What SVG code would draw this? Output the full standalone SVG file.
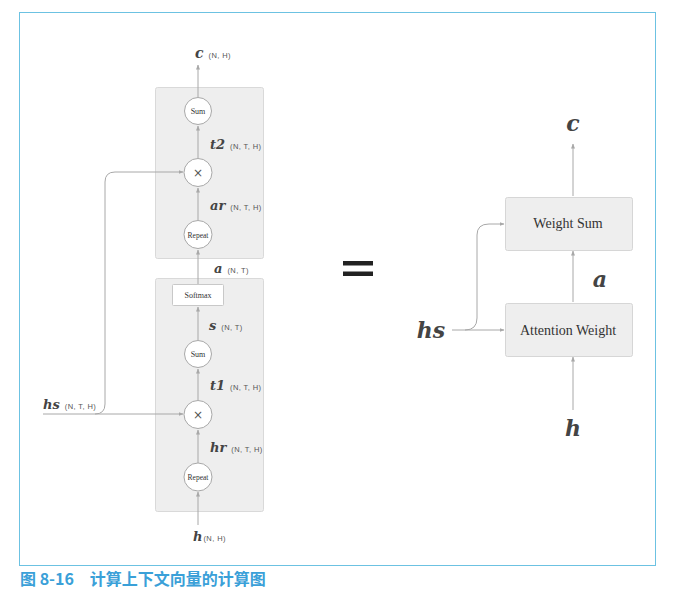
<svg xmlns="http://www.w3.org/2000/svg" width="694" height="593" viewBox="0 0 694 593">
<defs>
<marker id="ah" viewBox="0 0 10 10" refX="9" refY="5" markerWidth="5" markerHeight="5" orient="auto" markerUnits="userSpaceOnUse">
<path d="M0,1 L10,5 L0,9 Z" fill="#a8a8a8"/>
</marker>
<style>
.grp{fill:#eeeeee;stroke:#d9d9d9;stroke-width:1}
.node{fill:#ffffff;stroke:#a8a8a8;stroke-width:1}
.blk{fill:#eeeeee;stroke:#d6d6d6;stroke-width:1}
.arr{fill:none;stroke:#a8a8a8;stroke-width:1;marker-end:url(#ah)}
.var{font-family:"DejaVu Serif","Liberation Serif",serif;font-weight:bold;font-style:italic;fill:#444444}
.dim{font-family:"Liberation Sans",Arial,sans-serif;font-size:7.5px;letter-spacing:0.4px;fill:#555555}
.nt{font-family:"Liberation Serif","Times New Roman",serif;font-size:8px;fill:#333333;text-anchor:middle}
.bt{font-family:"Liberation Serif","Times New Roman",serif;font-size:14px;fill:#333333;text-anchor:middle}
.cap{font-family:"Noto Sans CJK SC","Noto Sans",sans-serif;font-weight:bold;font-size:16px;fill:#3aa0d8}
</style>
</defs>
<rect x="19.5" y="12.5" width="636" height="553" fill="#ffffff" stroke="#6cc2e2" stroke-width="1"/>

<g id="group-upper"><rect class="grp" x="155.5" y="87.5" width="108" height="171" rx="2"/></g>
<g id="group-lower"><rect class="grp" x="155.5" y="278.5" width="108" height="233" rx="2"/></g>

<g id="connectors">
<line class="arr" x1="198" y1="97" x2="198" y2="65"/>
<line class="arr" x1="198" y1="158" x2="198" y2="126"/>
<line class="arr" x1="198" y1="220" x2="198" y2="188"/>
<line class="arr" x1="198" y1="284" x2="198" y2="250"/>
<line class="arr" x1="198" y1="340" x2="198" y2="307"/>
<line class="arr" x1="198" y1="400" x2="198" y2="369"/>
<line class="arr" x1="198" y1="463" x2="198" y2="430"/>
<line class="arr" x1="198" y1="525" x2="198" y2="492"/>
<line class="arr" x1="43" y1="414" x2="183" y2="414"/>
<path class="arr" d="M95,414 Q105,414 105,404 L105,182 Q105,172 115,172 L183,172"/>
<line class="arr" x1="573" y1="196" x2="573" y2="144"/>
<line class="arr" x1="573" y1="302" x2="573" y2="251"/>
<line class="arr" x1="573" y1="410" x2="573" y2="357"/>
<line class="arr" x1="452" y1="330" x2="504" y2="330"/>
<path class="arr" d="M465,330 Q477,330 477,318 L477,235 Q477,224 489,224 L504,224"/>
</g>

<g id="sum-upper"><circle class="node" cx="198" cy="111" r="13.5"/><text class="nt" x="198" y="114">Sum</text></g>
<g id="mul-upper"><circle class="node" cx="198" cy="172.5" r="14"/><text x="198" y="177" text-anchor="middle" font-family="DejaVu Sans,sans-serif" font-size="12" fill="#555">×</text></g>
<g id="repeat-upper"><circle class="node" cx="198" cy="234.5" r="14"/><text class="nt" x="198" y="237.5" style="font-size:7.5px">Repeat</text></g>

<g id="softmax"><rect class="node" x="172.5" y="284.5" width="51" height="21" rx="1" style="stroke:#c8c8c8"/><text class="nt" x="198" y="298">Softmax</text></g>
<g id="sum-lower"><circle class="node" cx="198" cy="354" r="13.5"/><text class="nt" x="198" y="357">Sum</text></g>
<g id="mul-lower"><circle class="node" cx="198" cy="414.5" r="14"/><text x="198" y="419" text-anchor="middle" font-family="DejaVu Sans,sans-serif" font-size="12" fill="#555">×</text></g>
<g id="repeat-lower"><circle class="node" cx="198" cy="477" r="14"/><text class="nt" x="198" y="480" style="font-size:7.5px">Repeat</text></g>

<g id="labels-left">
<text x="195" y="58"><tspan class="var" font-size="14">c</tspan><tspan class="dim" dx="5">(N, H)</tspan></text>
<text x="210" y="149"><tspan class="var" font-size="13">t2</tspan><tspan class="dim" dx="5">(N, T, H)</tspan></text>
<text x="210" y="210"><tspan class="var" font-size="13">ar</tspan><tspan class="dim" dx="5">(N, T, H)</tspan></text>
<text x="214" y="273"><tspan class="var" font-size="13">a</tspan><tspan class="dim" dx="5">(N, T)</tspan></text>
<text x="209" y="330"><tspan class="var" font-size="13">s</tspan><tspan class="dim" dx="5">(N, T)</tspan></text>
<text x="210" y="390"><tspan class="var" font-size="13">t1</tspan><tspan class="dim" dx="5">(N, T, H)</tspan></text>
<text x="210" y="452"><tspan class="var" font-size="13">hr</tspan><tspan class="dim" dx="5">(N, T, H)</tspan></text>
<text x="43" y="409"><tspan class="var" font-size="13">hs</tspan><tspan class="dim" dx="5">(N, T, H)</tspan></text>
<text x="193" y="541"><tspan class="var" font-size="13">h</tspan><tspan class="dim" dx="1">(N, H)</tspan></text>
</g>

<g id="equals">
<rect x="343" y="261" width="30" height="4.5" fill="#222222"/>
<rect x="343" y="271.5" width="30" height="4.5" fill="#222222"/>
</g>

<g id="weight-sum"><rect class="blk" x="505.5" y="197.5" width="127" height="53" rx="2"/><text class="bt" x="568" y="228">Weight Sum</text></g>
<g id="attention-weight"><rect class="blk" x="505.5" y="303.5" width="127" height="53" rx="2"/><text class="bt" x="568" y="335">Attention Weight</text></g>

<g id="labels-right">
<text class="var" x="573" y="131" font-size="22" text-anchor="middle">c</text>
<text class="var" x="600" y="287" font-size="22" text-anchor="middle">a</text>
<text class="var" x="431" y="338" font-size="22" text-anchor="middle">hs</text>
<text class="var" x="573" y="436" font-size="22" text-anchor="middle">h</text>
</g>

<text class="cap" x="20" y="585">图 8-16　计算上下文向量的计算图</text>
</svg>
